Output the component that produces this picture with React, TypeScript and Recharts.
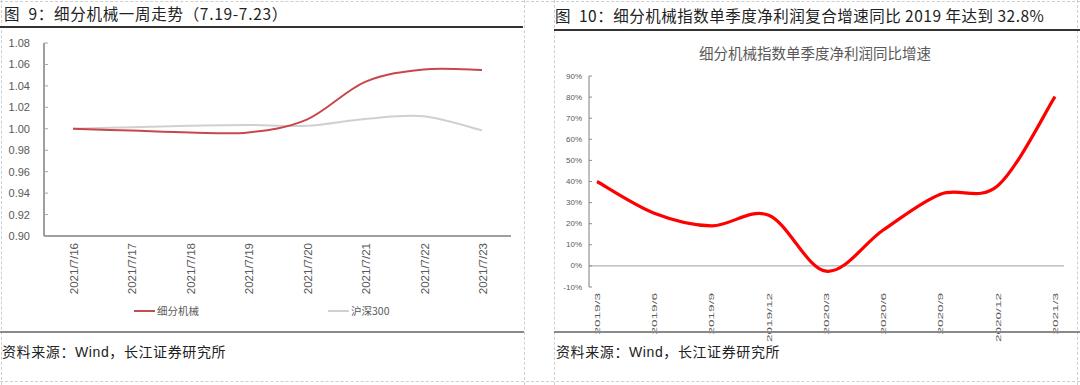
import React from 'react';
import { LineChart, Line, XAxis, YAxis, Legend, ReferenceLine } from 'recharts';

// ---------- Data ----------
const weekDates = ['2021/7/16', '2021/7/17', '2021/7/18', '2021/7/19', '2021/7/20', '2021/7/21', '2021/7/22', '2021/7/23'];
const machineryWeek = [1.0, 0.9983, 0.9966, 0.9966, 1.0085, 1.0437, 1.0553, 1.0548];
const hs300Week = [1.0, 1.0015, 1.0028, 1.0035, 1.0028, 1.0092, 1.0117, 0.9985];
const leftYTicks = [0.9, 0.92, 0.94, 0.96, 0.98, 1.0, 1.02, 1.04, 1.06, 1.08];

const quarters = ['2019/3', '2019/6', '2019/9', '2019/12', '2020/3', '2020/6', '2020/9', '2020/12', '2021/3'];
const profitGrowth = [40, 25, 19, 24, -2.5, 17, 34, 38, 80.2];
const rightYTicks = [-10, 0, 10, 20, 30, 40, 50, 60, 70, 80, 90];

const leftData = weekDates.map((d, i) => ({ date: d, machinery: machineryWeek[i], hs300: hs300Week[i] }));
const rightData = quarters.map((q, i) => ({ q, growth: profitGrowth[i] }));

// Excel-like smoothing (Catmull-Rom through the points)
function excelSmooth(context: any) {
  let pts: number[][] = [];
  return {
    areaStart() {},
    areaEnd() {},
    lineStart() {
      pts = [];
    },
    point(x: number, y: number) {
      pts.push([+x, +y]);
    },
    lineEnd() {
      const n = pts.length;
      if (!n) return;
      context.moveTo(pts[0][0], pts[0][1]);
      for (let i = 0; i < n - 1; i++) {
        const p0 = pts[Math.max(0, i - 1)];
        const p1 = pts[i];
        const p2 = pts[i + 1];
        const p3 = pts[Math.min(n - 1, i + 2)];
        context.bezierCurveTo(
          p1[0] + (p2[0] - p0[0]) / 6,
          p1[1] + (p2[1] - p0[1]) / 6,
          p2[0] - (p3[0] - p1[0]) / 6,
          p2[1] - (p3[1] - p1[1]) / 6,
          p2[0],
          p2[1]
        );
      }
    },
  };
}

const SANS = '"Liberation Sans", "Noto Sans CJK SC", sans-serif';
const CJK = '"Noto Sans CJK SC", sans-serif';

const LeftXTick = (props: any) => {
  const { x, y, payload } = props;
  return (
    <text
      x={x + 1}
      y={y}
      transform={`rotate(-90, ${x + 1}, ${y})`}
      textAnchor="end"
      dominantBaseline="central"
      fontSize={11.5}
      fill="#595959"
      fontFamily={SANS}
    >
      {payload.value}
    </text>
  );
};

const LeftYTick = (props: any) => {
  const { x, y, payload } = props;
  return (
    <g>
      <line x1={x + 14} x2={x + 18} y1={y} y2={y} stroke="#a6a6a6" strokeWidth={1} />
      <text x={x} y={y} textAnchor="end" dominantBaseline="central" fontSize={11} fill="#595959" fontFamily={SANS}>
        {Number(payload.value).toFixed(2)}
      </text>
    </g>
  );
};

const RightYTick = (props: any) => {
  const { x, y, payload } = props;
  return (
    <g>
      <line x1={x + 7} x2={x + 10} y1={y} y2={y} stroke="#8c8c8c" strokeWidth={1} />
      <text x={x} y={y} textAnchor="end" dominantBaseline="central" fontSize={8} fill="#595959" fontFamily={SANS}>
        {`${payload.value}%`}
      </text>
    </g>
  );
};

const RightXTick = (props: any) => {
  const { x, y, payload } = props;
  return (
    <g transform={`translate(${x},${y}) rotate(-90) scale(1.7,1)`}>
      <text x={0} y={0} textAnchor="end" dominantBaseline="central" fontSize={8} fill="#595959" fontFamily={SANS}>
        {payload.value}
      </text>
    </g>
  );
};

const LeftLegend = () => (
  <div style={{ height: 20, lineHeight: '20px', paddingLeft: 134, display: 'flex', fontFamily: CJK, fontSize: 10.5, color: '#595959' }}>
    <span style={{ width: 194, display: 'flex', alignItems: 'center' }}>
      <span style={{ width: 21, height: 2, background: '#C0504D', marginRight: 2 }} />
      细分机械
    </span>
    <span style={{ display: 'flex', alignItems: 'center' }}>
      <span style={{ width: 21, height: 2, background: '#D0D0D0', marginRight: 2 }} />
      沪深300
    </span>
  </div>
);

const abs = (s: React.CSSProperties): React.CSSProperties => ({ position: 'absolute', ...s });
const SRC_FONT = '"Liberation Sans", "Noto Sans CJK SC", sans-serif';

export default function App() {
  return (
    <div style={{ position: 'relative', width: 1080, height: 385, background: '#fff', overflow: 'hidden' }}>
      <style>{'body{margin:0;background:#fff}'}</style>

      {/* frame lines */}
      <div style={abs({ left: 0, top: 1, width: 1080, height: 0, borderTop: '1px dashed #cfcfcf' })} />
      <div style={abs({ left: 1, top: 0, width: 0, height: 385, borderLeft: '1px dashed #cfcfcf' })} />
      <div style={abs({ left: 524, top: 0, width: 0, height: 385, borderLeft: '1px dashed #cfcfcf' })} />
      <div style={abs({ left: 554, top: 0, width: 0, height: 385, borderLeft: '1px dashed #cfcfcf' })} />
      <div style={abs({ left: 1077, top: 0, width: 0, height: 385, borderLeft: '1px dashed #cfcfcf' })} />
      <div style={abs({ left: 0, top: 381, width: 1080, height: 0, borderTop: '1px dashed #cfcfcf' })} />

      {/* titles */}
      <div style={abs({ left: 4, top: 3, fontFamily: CJK, fontSize: 15.5, letterSpacing: 0.7, lineHeight: '20px', color: '#222', whiteSpace: 'pre' })}>
        图  9：细分机械一周走势（7.19-7.23）
      </div>
      <div style={abs({ left: 0, top: 26, width: 523, height: 2, background: '#333' })} />
      <div style={abs({ left: 555, top: 5, fontFamily: CJK, fontSize: 15.5, letterSpacing: 0.5, lineHeight: '20px', color: '#222', whiteSpace: 'pre' })}>
        图  10：细分机械指数单季度净利润复合增速同比 2019 年达到 32.8%
      </div>
      <div style={abs({ left: 554, top: 29, width: 526, height: 2, background: '#333' })} />

      {/* left chart */}
      <div style={abs({ left: 0, top: 30 })}>
        <LineChart width={524} height={300} data={leftData} margin={{ top: 13, right: 13, left: 0, bottom: 9 }}>
          <XAxis
            dataKey="date"
            padding={{ left: 29, right: 29 }}
            height={65}
            interval={0}
            tickLine={false}
            tickSize={0}
            tickMargin={7}
            axisLine={{ stroke: '#404040', strokeWidth: 1 }}
            tick={<LeftXTick />}
          />
          <YAxis
            domain={[0.9, 1.08]}
            ticks={leftYTicks}
            interval={0}
            width={44}
            tickLine={false}
            tickSize={0}
            tickMargin={14}
            axisLine={{ stroke: '#404040', strokeWidth: 1 }}
            tick={<LeftYTick />}
          />
          <Legend verticalAlign="bottom" content={<LeftLegend />} />
          <Line dataKey="hs300" name="沪深300" type={excelSmooth as any} stroke="#D0D0D0" strokeWidth={2} dot={false} isAnimationActive={false} />
          <Line dataKey="machinery" name="细分机械" type={excelSmooth as any} stroke="#C9474A" strokeWidth={2} dot={false} isAnimationActive={false} />
        </LineChart>
      </div>

      {/* right chart */}
      <div style={abs({ left: 555, top: 43, width: 520, textAlign: 'center', fontFamily: CJK, fontSize: 14.5, lineHeight: '20px', color: '#595959' })}>
        细分机械指数单季度净利润同比增速
      </div>
      <div style={abs({ left: 554, top: 30 })}>
        <LineChart width={526} height={315} data={rightData} margin={{ top: 46, right: 16, left: 0, bottom: 0 }}>
          <XAxis
            dataKey="q"
            padding={{ left: 8, right: 9 }}
            height={58}
            interval={0}
            tickLine={false}
            tickSize={0}
            tickMargin={6}
            axisLine={false}
            tick={<RightXTick />}
          />
          <YAxis
            domain={[-10, 90]}
            ticks={rightYTicks}
            interval={0}
            width={35}
            tickLine={false}
            tickSize={0}
            tickMargin={7}
            axisLine={{ stroke: '#7f7f7f', strokeWidth: 1 }}
            tick={<RightYTick />}
          />
          <ReferenceLine y={0} stroke="#a0a0a0" strokeWidth={1} />
          <Line dataKey="growth" type={excelSmooth as any} stroke="#FF0000" strokeWidth={3.2} dot={false} isAnimationActive={false} />
        </LineChart>
      </div>

      {/* bottom rules and sources */}
      <div style={abs({ left: 0, top: 331, width: 524, height: 2, background: '#8a8a8a' })} />
      <div style={abs({ left: 554, top: 331, width: 526, height: 2, background: '#8a8a8a' })} />
      <div style={abs({ left: 2, top: 343, fontFamily: SRC_FONT, fontSize: 14, letterSpacing: 0.6, lineHeight: '18px', color: '#222', whiteSpace: 'nowrap' })}>
        资料来源：Wind，长江证券研究所
      </div>
      <div style={abs({ left: 556, top: 343, fontFamily: SRC_FONT, fontSize: 14, letterSpacing: 0.6, lineHeight: '18px', color: '#222', whiteSpace: 'nowrap' })}>
        资料来源：Wind，长江证券研究所
      </div>
    </div>
  );
}
